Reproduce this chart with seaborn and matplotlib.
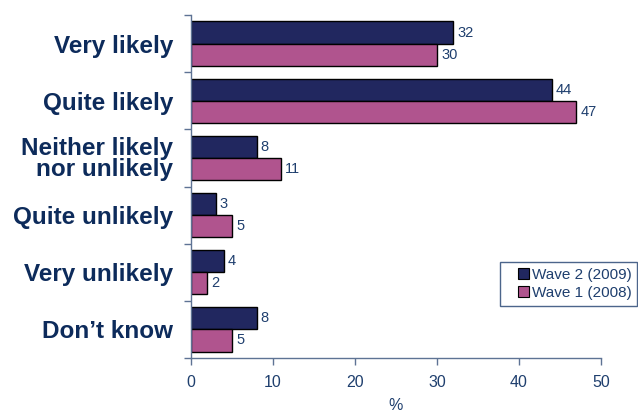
import matplotlib
matplotlib.use("Agg")
import matplotlib.pyplot as plt
import pandas as pd
import seaborn as sns
from matplotlib.patches import Patch, Rectangle
from matplotlib.legend_handler import HandlerPatch

categories = ["Very likely", "Quite likely", "Neither likely\nnor unlikely",
              "Quite unlikely", "Very unlikely", "Don\u2019t know"]
series_names = ["Wave 2 (2009)", "Wave 1 (2008)"]
wave2_2009 = [32, 44, 8, 3, 4, 8]
wave1_2008 = [30, 47, 11, 5, 2, 5]
x_ticks = [0, 10, 20, 30, 40, 50]
x_label = "%"

navy = "#21275F"
pink = "#B0548E"
text_blue = "#1F3F6E"
cat_blue = "#0D2B5B"
spine_col = "#5E7394"

df = pd.DataFrame({
    "category": categories * 2,
    "wave": [series_names[0]] * len(categories) + [series_names[1]] * len(categories),
    "value": wave2_2009 + wave1_2008,
})

sns.set_theme(style="white")
plt.rcParams["font.family"] = ["Liberation Sans", "DejaVu Sans"]

fig = plt.figure(figsize=(6.38, 4.15), dpi=100)
ax = fig.add_axes([191 / 638, 1 - 358 / 415, 410 / 638, 343 / 415])

sns.barplot(data=df, y="category", x="value", hue="wave", order=categories,
            hue_order=series_names, palette=[navy, pink], orient="h",
            width=0.775, edgecolor="black", linewidth=1.0, saturation=1,
            legend=False, ax=ax)

for cont in ax.containers:
    ax.bar_label(cont, padding=3, fontsize=10.5, color=text_blue)

ax.set_xlim(0, 50)
ax.set_ylim(len(categories) - 0.5, -0.5)
ax.set_xticks(x_ticks)
ax.set_xticklabels([str(t) for t in x_ticks], fontsize=11.5, color=text_blue)
ax.set_yticks(range(len(categories)))
ax.set_yticklabels(categories, fontsize=17.5, fontweight="bold", color=cat_blue,
                   linespacing=0.88)
ax.set_yticks([i - 0.5 for i in range(len(categories) + 1)], minor=True)
ax.tick_params(axis="y", which="major", length=0, pad=13)
ax.tick_params(axis="y", which="minor", length=5, width=1, color=spine_col,
               direction="out", left=True)
ax.tick_params(axis="x", which="major", length=5, width=1, color=spine_col,
               direction="out", bottom=True, pad=7)
ax.set_xlabel(x_label, fontsize=11.5, color=text_blue, labelpad=6)
ax.set_ylabel("")

for side in ["top", "right"]:
    ax.spines[side].set_visible(False)
for side in ["left", "bottom"]:
    ax.spines[side].set_color(spine_col)
    ax.spines[side].set_linewidth(1)


def square_right(legend, orig_handle, xdescent, ydescent, width, height, fontsize):
    side = 0.72 * fontsize
    return Rectangle((width - side - xdescent, (height - side) / 2 - ydescent),
                     side, side)


handles = [Patch(facecolor=navy, edgecolor="black", linewidth=0.8),
           Patch(facecolor=pink, edgecolor="black", linewidth=0.8)]
leg = fig.legend(handles, series_names, loc="upper right",
                 bbox_to_anchor=(637 / 638, 1 - 262 / 415),
                 fontsize=11, frameon=True, fancybox=False,
                 handlelength=1.55, handleheight=0.8, handletextpad=0.2,
                 borderpad=0.35, labelspacing=0.3, borderaxespad=0,
                 handler_map={Patch: HandlerPatch(patch_func=square_right)})
leg.get_frame().set_edgecolor(text_blue)
leg.get_frame().set_linewidth(1)
for t in leg.get_texts():
    t.set_color(text_blue)

fig.savefig("out.png", dpi=100, facecolor="white")
